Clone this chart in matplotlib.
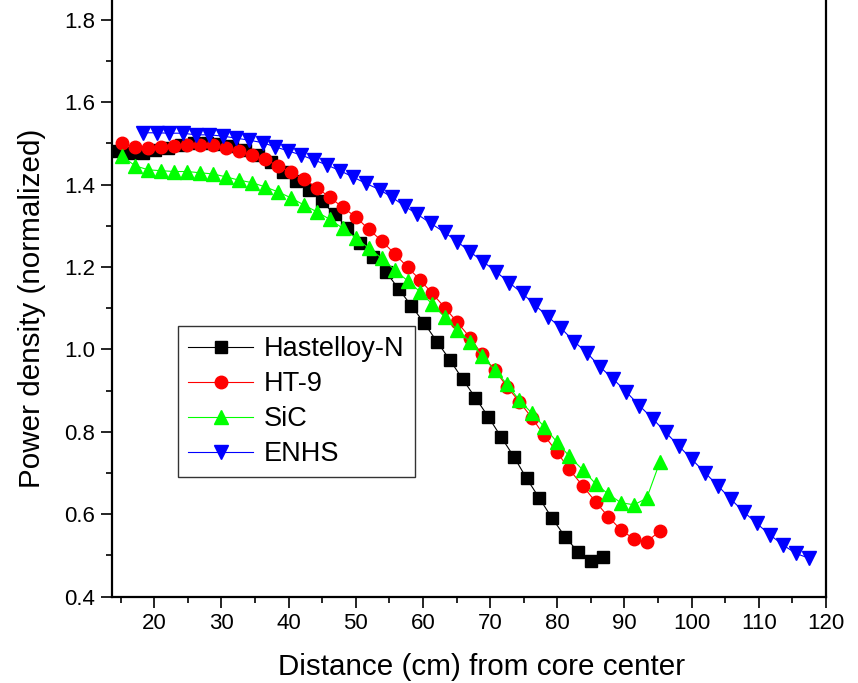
import matplotlib
matplotlib.use("Agg")
import matplotlib.pyplot as plt
from matplotlib.ticker import MultipleLocator

plt.rcParams['font.family'] = ['Liberation Sans', 'DejaVu Sans']

# shared grid for HT-9 and SiC
x_red = [15.15, 17.13, 19.11, 21.00, 22.93, 24.87, 26.80, 28.74, 30.68, 32.61,
         34.55, 36.44, 38.37, 40.35, 42.24, 44.22, 46.11, 48.09, 50.03, 51.92,
         53.90, 55.79, 57.70, 59.56, 61.39, 63.28, 65.11, 67.00, 68.79, 70.68,
         72.51, 74.34, 76.23, 78.02, 79.91, 81.78, 83.78, 85.71, 87.59, 89.48,
         91.42, 93.31, 95.29]
ht9 = [1.500, 1.491, 1.488, 1.491, 1.495, 1.496, 1.496, 1.496, 1.488, 1.482,
       1.472, 1.462, 1.446, 1.430, 1.413, 1.393, 1.369, 1.345, 1.321, 1.292,
       1.263, 1.232, 1.200, 1.169, 1.136, 1.101, 1.066, 1.029, 0.988, 0.950,
       0.910, 0.873, 0.834, 0.792, 0.752, 0.709, 0.669, 0.630, 0.594, 0.562,
       0.540, 0.533, 0.560]
sic = [1.470, 1.446, 1.436, 1.434, 1.432, 1.432, 1.429, 1.426, 1.419, 1.411,
       1.405, 1.395, 1.383, 1.368, 1.351, 1.334, 1.316, 1.294, 1.270, 1.246,
       1.221, 1.193, 1.167, 1.140, 1.110, 1.078, 1.047, 1.019, 0.984, 0.950,
       0.916, 0.877, 0.845, 0.813, 0.776, 0.741, 0.708, 0.674, 0.649, 0.628,
       0.623, 0.639, 0.728]

x_hast = [14.45, 16.35, 18.26, 20.16, 22.07, 23.97, 25.88, 27.79, 29.69, 31.60,
          33.50, 35.41, 37.31, 39.22, 41.13, 43.03, 44.94, 46.84, 48.75, 50.65,
          52.56, 54.47, 56.37, 58.28, 60.18, 62.09, 63.99, 65.90, 67.80, 69.71,
          71.62, 73.52, 75.43, 77.33, 79.24, 81.14, 83.05, 84.95, 86.86]
hast = [1.481, 1.476, 1.478, 1.483, 1.490, 1.496, 1.500, 1.501, 1.499, 1.494,
        1.484, 1.471, 1.456, 1.432, 1.410, 1.387, 1.360, 1.328, 1.296, 1.259,
        1.225, 1.189, 1.147, 1.106, 1.064, 1.019, 0.975, 0.928, 0.883, 0.837,
        0.788, 0.740, 0.687, 0.639, 0.590, 0.546, 0.509, 0.487, 0.496]

x_enhs = [18.36, 20.36, 22.23, 24.23, 26.21, 28.19, 30.18, 32.16, 34.14, 36.11,
          37.97, 39.95, 41.84, 43.78, 45.67, 47.65, 49.54, 51.52, 53.53, 55.42,
          57.28, 59.18, 61.19, 63.23, 65.11, 67.00, 68.98, 70.87, 72.85, 74.82,
          76.72, 78.66, 80.59, 82.53, 84.46, 86.35, 88.33, 90.22, 92.20, 94.20,
          96.13, 98.07, 100.05, 101.98, 103.92, 105.81, 107.75, 109.68, 111.66,
          113.64, 115.53, 117.51]
enhs = [1.526, 1.526, 1.525, 1.525, 1.521, 1.521, 1.518, 1.513, 1.508, 1.502,
        1.492, 1.482, 1.472, 1.460, 1.448, 1.434, 1.419, 1.403, 1.388, 1.369,
        1.348, 1.328, 1.306, 1.284, 1.262, 1.237, 1.213, 1.189, 1.162, 1.136,
        1.107, 1.079, 1.051, 1.019, 0.991, 0.958, 0.928, 0.898, 0.864, 0.832,
        0.799, 0.766, 0.733, 0.701, 0.669, 0.637, 0.606, 0.578, 0.550, 0.525,
        0.505, 0.493]

fig = plt.figure(figsize=(8.58, 6.83), dpi=100)
ax = fig.add_axes([0.1302, 0.1264, 0.8325, 0.8736])

ms = 9
ax.plot(x_hast, hast, color='black', lw=0.8, marker='s', ms=8.5, label='Hastelloy-N')
ax.plot(x_red, ht9, color='#ff0000', lw=0.8, marker='o', ms=ms, label='HT-9')
ax.plot(x_red, sic, color='#00ff00', lw=0.8, marker='^', ms=ms + 0.5, label='SiC')
ax.plot(x_enhs, enhs, color='#0000ff', lw=0.8, marker='v', ms=ms + 0.5, label='ENHS')

ax.set_xlim(13.66, 120)
ax.set_ylim(0.4, 1.8483)
ax.xaxis.set_major_locator(MultipleLocator(10))
ax.xaxis.set_minor_locator(MultipleLocator(5))
ax.yaxis.set_major_locator(MultipleLocator(0.2))
ax.yaxis.set_minor_locator(MultipleLocator(0.1))
ax.set_xticks(range(20, 121, 10))
ax.set_yticks([0.4, 0.6, 0.8, 1.0, 1.2, 1.4, 1.6, 1.8])
ax.set_yticklabels(['0.4', '0.6', '0.8', '1.0', '1.2', '1.4', '1.6', '1.8'])

ax.spines['top'].set_visible(False)
for s in ['left', 'right', 'bottom']:
    ax.spines[s].set_linewidth(1.6)
ax.tick_params(which='major', direction='out', length=8, width=1.2, labelsize=16, pad=4)
ax.tick_params(which='minor', direction='out', length=4.5, width=1.2)
ax.tick_params(axis='y', right=False)

ax.set_xlabel('Distance (cm) from core center', fontsize=21.3)
ax.set_ylabel('Power density (normalized)', fontsize=21.3)
ax.xaxis.set_label_coords(0.518, -0.094)
ax.yaxis.set_label_coords(-0.092, 0.483)

leg = ax.legend(loc='upper left', bbox_to_anchor=(0.0928, 0.4537), borderaxespad=0,
                fontsize=19.5, frameon=True, fancybox=False, edgecolor='black',
                handlelength=2.4, handletextpad=0.4, borderpad=0.38, labelspacing=0.33)
leg.get_frame().set_linewidth(1.0)

fig.savefig('out.png', dpi=100)
